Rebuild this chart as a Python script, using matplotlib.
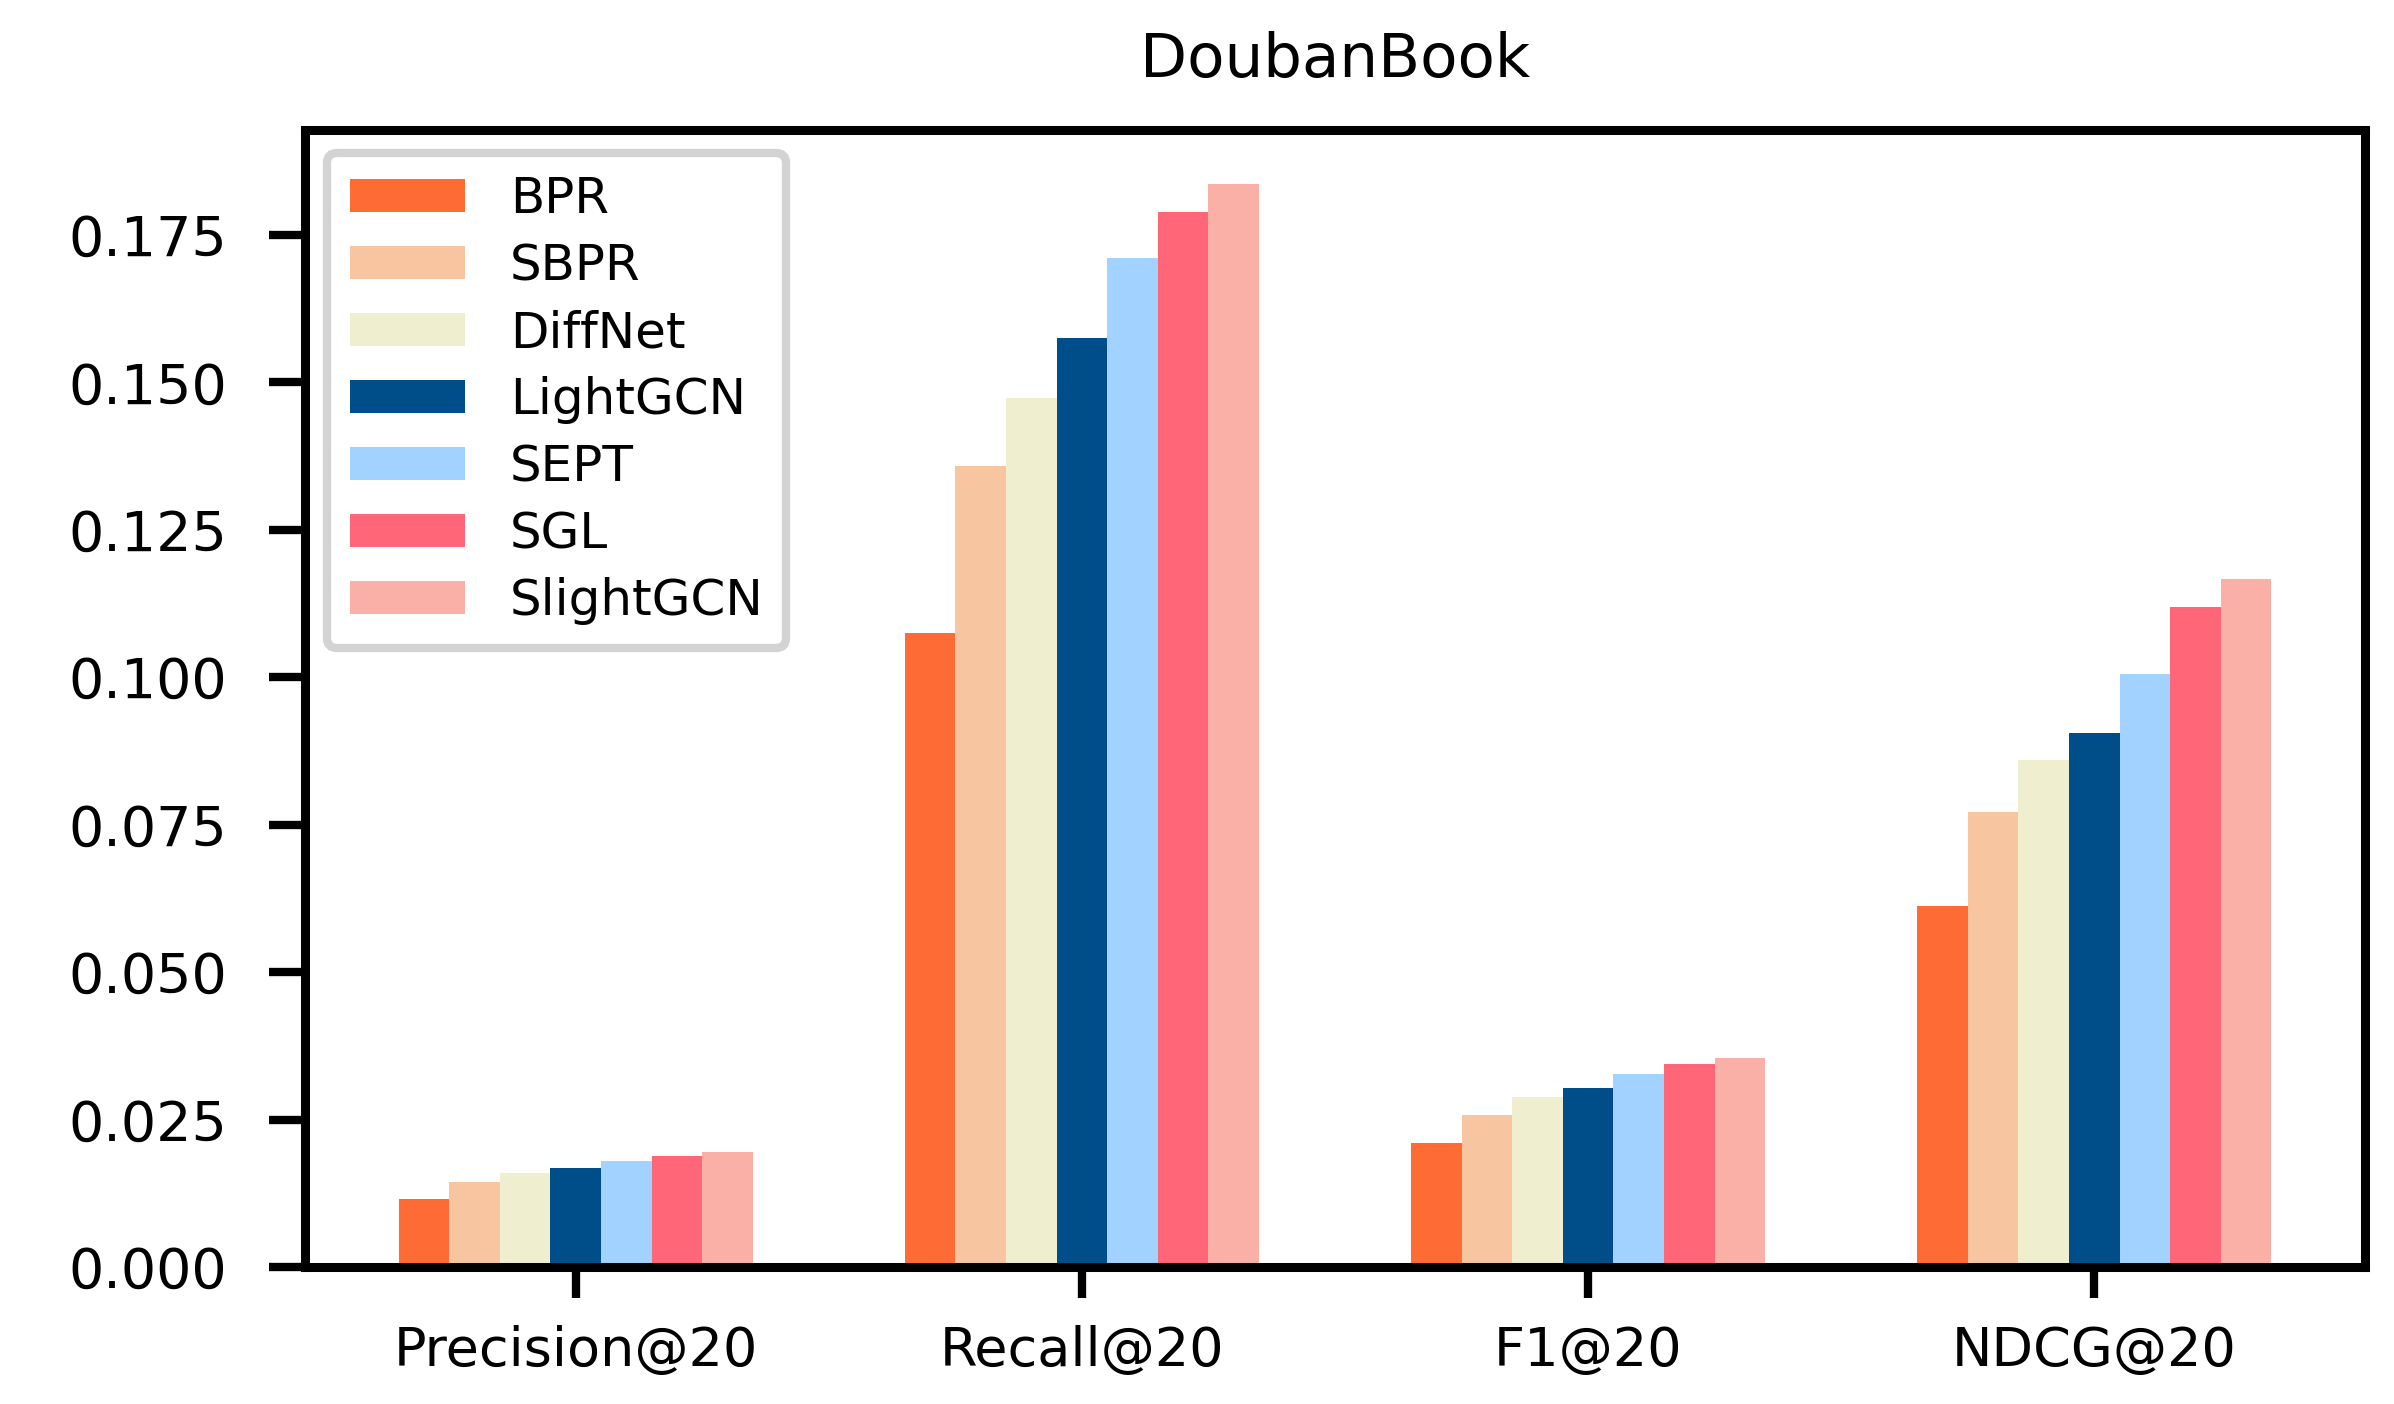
import numpy as np
import matplotlib
matplotlib.use("Agg")
import matplotlib.pyplot as plt

# metrics on x, one bar per method
metrics = ["Precision@20", "Recall@20", "F1@20", "NDCG@20"]
methods = ["BPR", "SBPR", "DiffNet", "LightGCN", "SEPT", "SGL", "SlightGCN"]
colors = ["#ff6b35", "#f7c59f", "#efefd0", "#004e89", "#a2d2ff", "#ff6678", "#fab0a6"]

bpr       = [0.0115, 0.1075, 0.0211, 0.0612]
sbpr      = [0.0144, 0.1359, 0.0258, 0.0772]
diffnet   = [0.0159, 0.1474, 0.0288, 0.0859]
lightgcn  = [0.0168, 0.1576, 0.0303, 0.0905]
sept      = [0.0180, 0.1711, 0.0327, 0.1005]
sgl       = [0.0188, 0.1789, 0.0344, 0.1119]
slightgcn = [0.0195, 0.1837, 0.0355, 0.1166]
values = [bpr, sbpr, diffnet, lightgcn, sept, sgl, slightgcn]

plt.rcParams['font.family'] = ['DejaVu Sans']

fig = plt.figure(figsize=(23.94, 14.04), dpi=100)
ax = fig.add_axes([0.1274, 0.0976, 0.8605, 0.8098])

x = np.arange(len(metrics))
w = 0.1
for j, (name, vals) in enumerate(zip(methods, values)):
    ax.bar(x + (j - 3) * w, vals, width=w, color=colors[j], label=name)

ax.set_xticks(x)
ax.set_xticklabels(metrics)
ax.set_ylim(0, 0.1928)
ax.set_yticks(np.arange(0, 0.176, 0.025))
ax.set_yticklabels(["%.3f" % t for t in np.arange(0, 0.176, 0.025)])

for s in ax.spines.values():
    s.set_linewidth(6.5)
ax.tick_params(axis='y', length=26, width=6, pad=30, labelsize=40)
ax.tick_params(axis='x', length=22, width=6, pad=20, labelsize=39)

ax.set_title("DoubanBook", fontsize=44, pad=38)

leg = ax.legend(loc='upper left', fontsize=36, handlelength=2.3, handleheight=0.66,
                handletextpad=0.9, labelspacing=0.38, borderpad=0.45,
                borderaxespad=0.45, fancybox=True, framealpha=1)
leg.get_frame().set_edgecolor('#d3d3d3')
leg.get_frame().set_linewidth(6)

fig.savefig("out.png", dpi=100)
